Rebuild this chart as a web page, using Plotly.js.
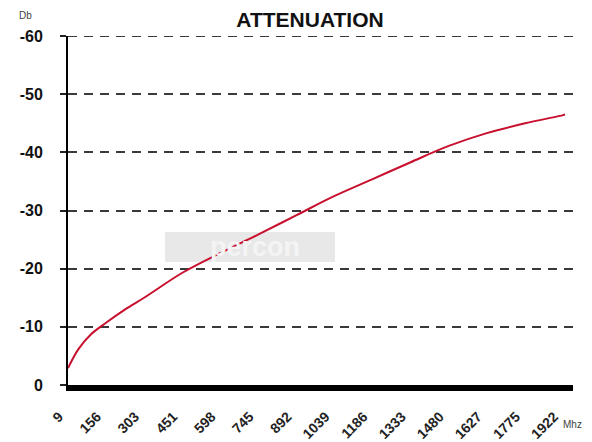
<!DOCTYPE html>
<html>
<head>
<meta charset="utf-8">
<script src="https://cdn.plot.ly/plotly-3.0.1.min.js"></script>
<style>
  html, body { margin: 0; padding: 0; background: #ffffff; }
  #chart { width: 592px; height: 442px; }
</style>
</head>
<body>
<div id="chart"></div>
<script>
// Frequency (MHz) and attenuation (dB)
const freqMHz = [9, 50, 100, 156, 230, 303, 451, 598, 745, 892, 1039, 1186, 1333, 1480, 1627, 1775, 1922, 1929];
const attenuationDb = [-2.9, -6.2, -8.8, -10.7, -13.0, -15.0, -19.3, -22.7, -25.9, -29.2, -32.5, -35.4, -38.3, -41.1, -43.3, -45.0, -46.4, -46.5];

// Axis ticks
const xTickVals = [9, 156, 303, 451, 598, 745, 892, 1039, 1186, 1333, 1480, 1627, 1775, 1922];
const xTickText = ['9', '156', '303', '451', '598', '745', '892', '1039', '1186', '1333', '1480', '1627', '1775', '1922'];
const yTickVals = [0, -10, -20, -30, -40, -50, -60];
const yTickText = ['0', '-10', '-20', '-30', '-40', '-50', '-60'];

// plot-area box in pixels (for decorative watermark placement)
const L = 68, R = 573, T = 36, B = 385;
const px2x = p => (p - L) / (R - L);
const px2y = p => (B - p) / (B - T);

const trace = {
  x: freqMHz,
  y: attenuationDb,
  type: 'scatter',
  mode: 'lines',
  line: { color: '#c8102e', width: 2, shape: 'spline', smoothing: 1 },
  hoverinfo: 'skip'
};

function poly(pts) {
  return 'M' + pts.map(p => px2x(p[0]).toFixed(4) + ',' + px2y(p[1]).toFixed(4)).join(' L') + ' Z';
}

const shapes = [
  // watermark logo box
  { type: 'path', xref: 'paper', yref: 'paper', layer: 'below', line: { width: 0 }, fillcolor: '#e8e8e8',
    path: poly([[165, 232], [335, 232], [335, 262], [165, 262]]) },
  // top gridline at -60
  { type: 'line', xref: 'paper', yref: 'y', x0: 0, x1: 1, y0: -60, y1: -60, layer: 'below',
    line: { color: '#3a3a3a', width: 2, dash: '9px,7px' } }
];

const layout = {
  width: 592,
  height: 442,
  margin: { l: 68, r: 19, t: 36, b: 57 },
  paper_bgcolor: '#ffffff',
  plot_bgcolor: 'rgba(0,0,0,0)',
  showlegend: false,
  font: { family: 'Arial, Liberation Sans, sans-serif', color: '#111' },
  title: {
    text: '<b>ATTENUATION</b>',
    font: { size: 21, color: '#111', family: 'Arial, Liberation Sans, sans-serif' },
    x: px2x(310), xref: 'paper', xanchor: 'center',
    y: 1 - 20 / 442, yref: 'container', yanchor: 'middle'
  },
  xaxis: {
    range: [9, 1960],
    tickmode: 'array',
    tickvals: xTickVals,
    ticktext: xTickText,
    tickangle: -45,
    tickfont: { size: 14, color: '#222', weight: 'bold' },
    ticklabelstandoff: 12,
    ticklabelshift: -9,
    showgrid: false,
    zeroline: false,
    showline: true,
    linecolor: '#000',
    linewidth: 6,
    ticks: '',
    fixedrange: true
  },
  yaxis: {
    range: [0, -60],
    tickmode: 'array',
    tickvals: yTickVals,
    ticktext: yTickText,
    tickfont: { size: 16, color: '#111', weight: 'bold' },
    showgrid: true,
    gridcolor: '#3a3a3a',
    gridwidth: 2,
    griddash: '9px,7px',
    zeroline: false,
    showline: true,
    linecolor: '#000',
    linewidth: 2,
    ticks: 'outside',
    ticklen: 6,
    tickwidth: 2,
    tickcolor: '#222',
    ticklabelstandoff: 14,
    fixedrange: true
  },
  shapes: shapes,
  annotations: [
    { text: 'Db', x: px2x(25), y: px2y(16), xref: 'paper', yref: 'paper', showarrow: false,
      font: { size: 10, color: '#444' }, xanchor: 'center', yanchor: 'middle' },
    { text: 'Mhz', x: px2x(572), y: px2y(424), xref: 'paper', yref: 'paper', showarrow: false,
      font: { size: 10, color: '#444' }, xanchor: 'center', yanchor: 'middle' },
    { text: '<b>percon</b>', x: px2x(255), y: px2y(247), xref: 'paper', yref: 'paper', showarrow: false,
      font: { size: 27, color: '#f4f4f4' }, xanchor: 'center', yanchor: 'middle' }
  ]
};

Plotly.newPlot('chart', [trace], layout, { displayModeBar: false, staticPlot: true });
</script>
</body>
</html>
